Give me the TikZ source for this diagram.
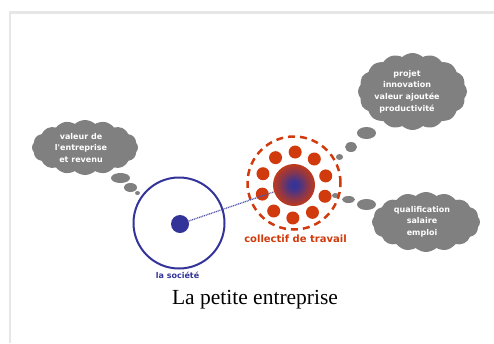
\documentclass[tikz,border=0pt]{standalone}
\usepackage{fontspec}
\setmainfont{Liberation Serif}
\newfontfamily\lblfont{DejaVu Sans}
\usetikzlibrary{shapes.symbols,shapes.geometric,calc}
\definecolor{cgray}{HTML}{808080}
\definecolor{cblue}{HTML}{33339A}
\definecolor{cred}{HTML}{D03A0C}
\definecolor{cframe}{HTML}{E6E6E6}
\pgfdeclareradialshading{coreshade}{\pgfpoint{0bp}{0bp}}{color(0bp)=(cblue); color(6bp)=(cblue!90!cred); color(16bp)=(cblue!45!cred); color(28bp)=(cred); color(50bp)=(cred)}
\begin{document}
\begin{tikzpicture}[x=1pt,y=-1pt,
  cloudbox/.style={cloud, cloud puffs=16, cloud puff arc=85, fill=cgray, draw=none, inner sep=0pt, aspect=2},
  cloudtext/.style={text=white, font=\lblfont\bfseries\fontsize{8}{11.7}\selectfont, align=center, inner sep=0pt},
  bubble/.style={fill=cgray},
  reddot/.style={circle, fill=cred, minimum size=13pt, inner sep=0pt}]
\useasboundingbox (0,0) rectangle (494,343);
\draw[cframe, line width=2.5pt] (10,343) -- (10,12.5) -- (494,12.5);
% clouds
\node[cloudbox, minimum width=106pt, minimum height=55pt] (c1) at (85,147.5) {};
\node[cloudbox, minimum width=109pt, minimum height=77pt, aspect=1.4] (c2) at (412.5,91.5) {};
\node[cloudbox, minimum width=108pt, minimum height=60pt] (c3) at (426,222) {};
% bubbles
\fill[bubble] (120.5,178) ellipse [x radius=9.5, y radius=5];
\fill[bubble] (130.5,187.5) ellipse [x radius=6.5, y radius=4.5];
\fill[bubble] (137.5,193) ellipse [x radius=2.5, y radius=2];
\fill[bubble] (366.5,133) ellipse [x radius=9.5, y radius=6];
\fill[bubble] (351,147) ellipse [x radius=6, y radius=5];
\fill[bubble] (339.5,157) ellipse [x radius=3.5, y radius=3];
\fill[bubble] (366.5,204.5) ellipse [x radius=9.5, y radius=5.5];
\fill[bubble] (348.5,199.5) ellipse [x radius=6.5, y radius=3.5];
\fill[bubble] (335.5,195.5) ellipse [x radius=3.5, y radius=2.5];
% cloud texts
\node[cloudtext] (t1) at (81,148) {valeur de\\l'entreprise\\et revenu};
\node[cloudtext] (t2) at (407,91.5) {projet\\innovation\\valeur ajoutée\\productivité};
\node[cloudtext] (t3) at (422,221.5) {qualification\\salaire\\emploi};
% society
\node[circle, draw=cblue, line width=2pt, minimum size=91pt, inner sep=0pt] (soc) at (179,223) {};
\node[circle, fill=cblue, minimum size=18pt, inner sep=0pt] (sdot) at (180,224) {};
% collective
\node[circle, draw=cred, dash pattern=on 7pt off 5pt, line width=2.5pt, minimum size=93pt, inner sep=0pt] (ring) at (294,183) {};
\node[circle, shading=coreshade, minimum size=42pt, inner sep=0pt] (core) at (294,185) {};
\foreach \a [count=\i] in {88,124,160,196,232,268,304,340,16,52}
  \node[reddot] (d\i) at ([shift={(\a:33pt)}]core.center) {};
\draw[cblue!85, line width=1.3pt, dash pattern=on 1pt off 0.8pt] (sdot) -- (core);
% labels
\node[text=cblue, font=\lblfont\bfseries\fontsize{8}{9}\selectfont, inner sep=0pt] (lsoc) at (177.5,275.5) {la société};
\node[text=cred, font=\lblfont\bfseries\fontsize{10}{12}\selectfont, inner sep=0pt] (lcol) at (295.5,238.5) {collectif de travail};
\node[anchor=base, font=\fontsize{21.5}{24}\selectfont, inner sep=0pt] (cap) at (255,304) {La petite entreprise};
\end{tikzpicture}
\end{document}
